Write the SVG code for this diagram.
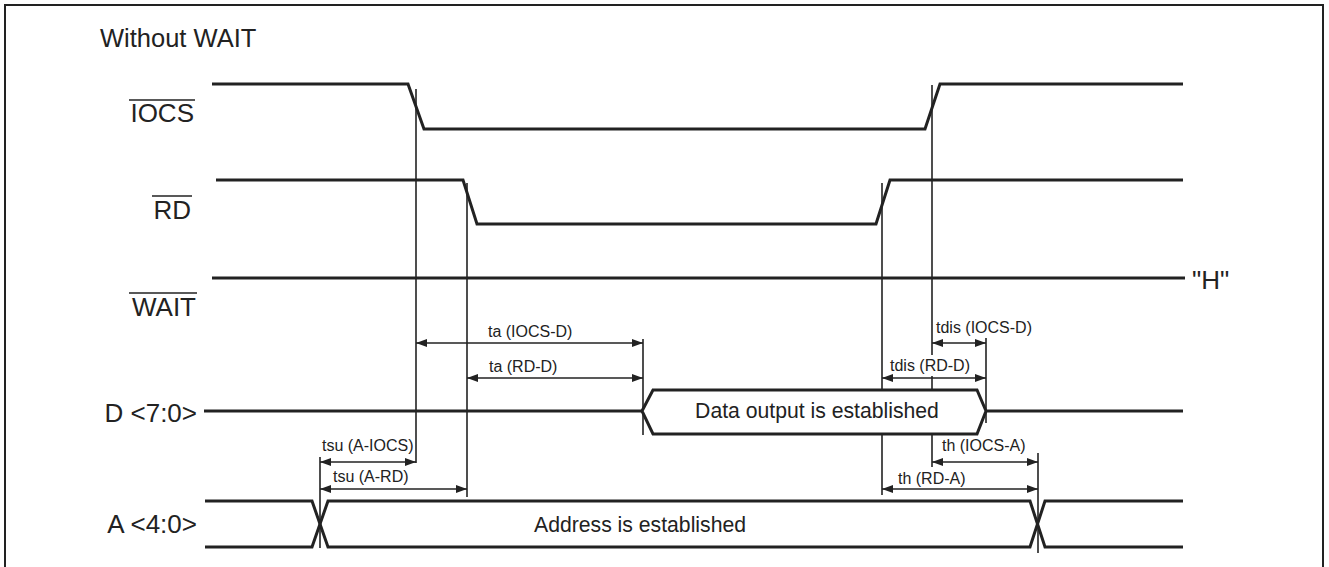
<svg xmlns="http://www.w3.org/2000/svg" width="1329" height="567" viewBox="0 0 1329 567">
<style>
.sig{fill:none;stroke:#222;stroke-width:3;stroke-linejoin:miter}
.bus{fill:#fff;stroke:#222;stroke-width:3;stroke-linejoin:miter}
.v{stroke:#222;stroke-width:1.6;fill:none}
.dim{stroke:#222;stroke-width:1.5;fill:none;marker-start:url(#ah);marker-end:url(#ah)}
.lbl{font-family:"Liberation Sans",Arial,sans-serif;font-size:26px;fill:#222}
.big{font-family:"Liberation Sans",Arial,sans-serif;font-size:21.2px;fill:#222}
.sm{font-family:"Liberation Sans",Arial,sans-serif;font-size:16px;fill:#222}
.ov{stroke:#222;stroke-width:1.4}
</style>
<defs>
<marker id="ah" viewBox="0 0 11 8" refX="11" refY="4" markerWidth="11" markerHeight="8" markerUnits="userSpaceOnUse" orient="auto-start-reverse">
<path d="M0,0 L11,4 L0,8 Z" fill="#222"/>
</marker>
</defs>
<rect x="5" y="5" width="1318" height="600" fill="#fff" stroke="#222" stroke-width="2"/>
<text class="lbl" x="100" y="47" style="font-size:25.5px">Without WAIT</text>

<g id="connectors">
<line class="v" x1="416" y1="89" x2="416" y2="463"/>
<line class="v" x1="467" y1="183" x2="467" y2="497"/>
<line class="v" x1="643" y1="339" x2="643" y2="435"/>
<line class="v" x1="986" y1="338" x2="986" y2="423"/>
<line class="v" x1="882" y1="183" x2="882" y2="495"/>
<line class="v" x1="932" y1="85" x2="932" y2="355"/>
<line class="v" x1="932" y1="376" x2="932" y2="467"/>
<line class="v" x1="320" y1="457" x2="320" y2="548"/>
<line class="v" x1="1038" y1="453" x2="1038" y2="553"/>

<line class="dim" x1="416" y1="343" x2="643" y2="343"/>
<line class="dim" x1="467" y1="378" x2="643" y2="378"/>
<line class="dim" x1="932" y1="343" x2="986" y2="343"/>
<line class="dim" x1="882" y1="378" x2="986" y2="378"/>
<line class="dim" x1="320" y1="462" x2="416" y2="462"/>
<line class="dim" x1="320" y1="489" x2="467" y2="489"/>
<line class="dim" x1="932" y1="462" x2="1038" y2="462"/>
<line class="dim" x1="882" y1="489" x2="1038" y2="489"/>

<text class="sm" x="488" y="337">ta (IOCS-D)</text>
<text class="sm" x="489" y="372">ta (RD-D)</text>
<text class="sm" x="936" y="333">tdis (IOCS-D)</text>
<text class="sm" x="890" y="371">tdis (RD-D)</text>
<text class="sm" x="322" y="451">tsu (A-IOCS)</text>
<text class="sm" x="333" y="482">tsu (A-RD)</text>
<text class="sm" x="942" y="451">th (IOCS-A)</text>
<text class="sm" x="898" y="484">th (RD-A)</text>
</g>

<g id="IOCS">
<text class="lbl" x="194" y="122" text-anchor="end">IOCS</text>
<line class="ov" x1="129" y1="100" x2="195" y2="100"/>
<polyline class="sig" points="212,84 408,84 424,129 925,129 940,84 1183,84"/>
</g>
<g id="RD">
<text class="lbl" x="191" y="219" text-anchor="end">RD</text>
<line class="ov" x1="152" y1="196" x2="192" y2="196"/>
<polyline class="sig" points="216,180 463,180 477,224 876,224 890,180 1183,180"/>
</g>
<g id="WAIT">
<text class="lbl" x="196" y="316" text-anchor="end">WAIT</text>
<line class="ov" x1="129" y1="293" x2="197" y2="293"/>
<line class="sig" x1="212" y1="278" x2="1185" y2="278"/>
<text class="lbl" x="1192" y="289">"H"</text>
</g>
<g id="D">
<text class="lbl" x="197" y="422" text-anchor="end">D &lt;7:0&gt;</text>
<line class="sig" x1="204" y1="411" x2="642" y2="411"/>
<polygon class="bus" points="642,411 653,390 977,390 986,411 977,434 653,434"/>
<line class="sig" x1="986" y1="411" x2="1183" y2="411"/>
<text class="big" x="817" y="418" text-anchor="middle">Data output is established</text>
</g>
<g id="A">
<text class="lbl" x="197" y="533" text-anchor="end">A &lt;4:0&gt;</text>
<polyline class="sig" points="205,501 312,501 328,547 1030,547 1045,501 1183,501"/>
<polyline class="sig" points="205,547 312,547 328,501 1030,501 1045,547 1183,547"/>
<text class="big" x="640" y="532" text-anchor="middle">Address is established</text>
</g>
</svg>
